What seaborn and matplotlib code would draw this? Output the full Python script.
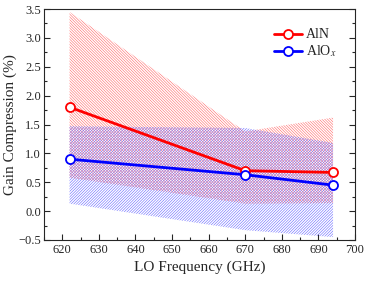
import numpy as np
import pandas as pd
import matplotlib
matplotlib.use("Agg")
import matplotlib.pyplot as plt
import seaborn as sns
from matplotlib.ticker import MultipleLocator

# LO frequency points (GHz)
freq = [622, 670, 694]

# mean gain compression (%)
aln_mean = [1.80, 0.70, 0.67]
alox_mean = [0.90, 0.63, 0.45]

# spread bands (upper / lower)
aln_upper = [3.45, 1.38, 1.62]
aln_lower = [0.58, 0.13, 0.14]
alox_upper = [1.47, 1.44, 1.18]
alox_lower = [0.13, -0.33, -0.45]

series = ["AlN", "AlO$_x$"]
colors = ["#ff0000", "#0000ff"]
hatch_colors = ["#ff6666", "#6666ff"]

df = pd.DataFrame({
    "freq": freq * 2,
    "gc": aln_mean + alox_mean,
    "film": [series[0]] * 3 + [series[1]] * 3,
})

sns.set_style("ticks")
plt.rcParams["font.family"] = ["Liberation Serif", "DejaVu Serif"]
plt.rcParams["mathtext.fontset"] = "stix"
plt.rcParams["hatch.linewidth"] = 0.4
plt.rcParams["xtick.direction"] = "in"
plt.rcParams["ytick.direction"] = "in"

fig = plt.figure(figsize=(3.66, 2.83), dpi=100)
ax = fig.add_axes([0.120, 0.152, 0.850, 0.816])

# hatched spread bands
ax.fill_between(freq, aln_lower, aln_upper, facecolor="none", edgecolor=hatch_colors[0],
                hatch="\\" * 12, linewidth=0, zorder=1)
ax.fill_between(freq, alox_lower, alox_upper, facecolor="none", edgecolor=hatch_colors[1],
                hatch="/" * 12, linewidth=0, zorder=1)

sns.lineplot(data=df, x="freq", y="gc", hue="film", palette=colors, marker="o",
             markersize=6.5, markerfacecolor="white", markeredgewidth=1.3,
             linewidth=2, ax=ax, zorder=3)

for i, line in enumerate(ax.get_lines()[:2]):
    line.set_markeredgecolor(colors[i])

ax.set_xlim(615, 700)
ax.set_ylim(-0.5, 3.5)
ax.xaxis.set_major_locator(MultipleLocator(10))
ax.xaxis.set_minor_locator(MultipleLocator(5))
ax.yaxis.set_major_locator(MultipleLocator(0.5))
ax.yaxis.set_minor_locator(MultipleLocator(0.25))
ax.tick_params(which="both", right=True, top=False, labelsize=9, pad=3)
ax.tick_params(axis="y", pad=2)
ax.tick_params(which="major", length=4, width=0.8)
ax.tick_params(which="minor", length=2, width=0.8)

ax.set_xlabel("LO Frequency (GHz)", fontsize=11, labelpad=3)
ax.set_ylabel("Gain Compression (%)", fontsize=11, labelpad=1)

handles, labels = ax.get_legend_handles_labels()
for i, h in enumerate(handles):
    h.set_markerfacecolor("white")
    h.set_markeredgecolor(colors[i])
ax.legend(handles, series, loc="upper right", frameon=False, fontsize=10,
          bbox_to_anchor=(0.98, 0.97), handlelength=2.0, handletextpad=0.3,
          labelspacing=0.15)

fig.savefig("out.png", dpi=100)
